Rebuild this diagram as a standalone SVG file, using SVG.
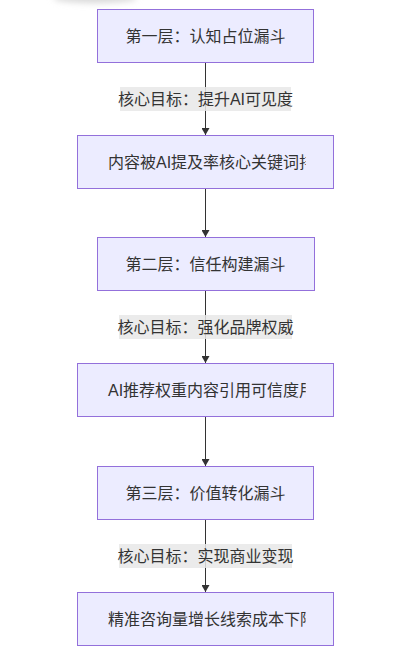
<svg xmlns="http://www.w3.org/2000/svg" width="400" height="651" viewBox="0 0 400 651">
<style>
.node rect{fill:#ECECFF;stroke:#9370DB;stroke-width:1}
.t{font-family:"Liberation Sans","Noto Sans CJK SC",sans-serif;font-size:16px;fill:#333;dominant-baseline:central}
.c{text-anchor:middle}
.edge{stroke:#333;stroke-width:1;fill:none}
.lbg{fill:#e8e8e8;opacity:0.85}
</style>
<defs>
<marker id="arr" viewBox="0 0 10 10" refX="10" refY="5" markerWidth="7" markerHeight="8" markerUnits="userSpaceOnUse" orient="auto" preserveAspectRatio="none">
<path d="M0,0 L10,5 L0,10 z" fill="#333"/>
</marker>
<clipPath id="clipW"><rect x="100" y="0" width="205.7" height="651"/></clipPath>
<filter id="blur" x="-50%" y="-200%" width="200%" height="500%"><feGaussianBlur stdDeviation="3"/></filter>
</defs>
<rect width="400" height="651" fill="#fff"/>
<ellipse cx="95" cy="-2" rx="42" ry="5" fill="#d8d8d8" filter="url(#blur)"/>
<g id="connectors">
<path class="edge" d="M205.5,62 L205.5,135" marker-end="url(#arr)"/>
<path class="edge" d="M205.5,188.5 L205.5,237" marker-end="url(#arr)"/>
<path class="edge" d="M205.5,290.5 L205.5,363" marker-end="url(#arr)"/>
<path class="edge" d="M205.5,417 L205.5,466" marker-end="url(#arr)"/>
<path class="edge" d="M205.5,519 L205.5,592" marker-end="url(#arr)"/>
<g id="label1"><rect class="lbg" x="120" y="87" width="171" height="24"/><text class="t c" x="205.5" y="99">核心目标：提升AI可见度</text></g>
<g id="label2"><rect class="lbg" x="119" y="315" width="173" height="24"/><text class="t c" x="205.5" y="327">核心目标：强化品牌权威</text></g>
<g id="label3"><rect class="lbg" x="119" y="544" width="173" height="24"/><text class="t c" x="205.5" y="556">核心目标：实现商业变现</text></g>
</g>
<g id="n1" class="node"><rect x="97.5" y="9.5" width="216" height="53"/><text class="t c" x="205.5" y="36">第一层：认知占位漏斗</text></g>
<g id="n2" class="node"><rect x="77.5" y="135.5" width="256" height="53"/><text class="t" x="108" y="162" clip-path="url(#clipW)">内容被AI提及率核心关键词排</text></g>
<g id="n3" class="node"><rect x="97.5" y="237.5" width="217" height="53"/><text class="t c" x="205.5" y="264">第二层：信任构建漏斗</text></g>
<g id="n4" class="node"><rect x="77.5" y="363.5" width="256" height="53"/><text class="t" x="108" y="390" clip-path="url(#clipW)">AI推荐权重内容引用可信度用</text></g>
<g id="n5" class="node"><rect x="97.5" y="466.5" width="216" height="53"/><text class="t c" x="205.5" y="493">第三层：价值转化漏斗</text></g>
<g id="n6" class="node"><rect x="77.5" y="592.5" width="256" height="53"/><text class="t" x="108" y="619" clip-path="url(#clipW)">精准咨询量增长线索成本下降</text></g>
</svg>
